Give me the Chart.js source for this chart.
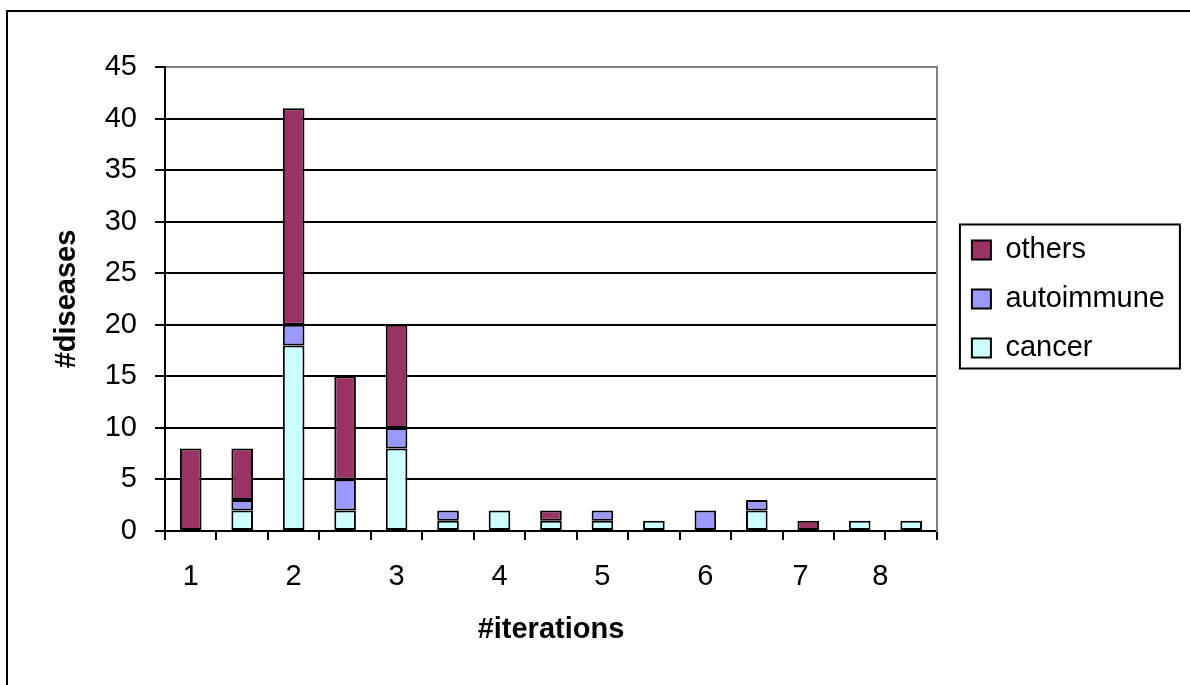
<!DOCTYPE html>
<html>
<head>
<meta charset="utf-8">
<script src="https://cdn.jsdelivr.net/npm/chart.js@4/dist/chart.umd.min.js"></script>
<style>
    html, body { margin: 0; padding: 0; background: #fff; overflow: hidden; }
    #frame {
        position: absolute; left: 6px; top: 10px;
        width: 2000px; height: 2000px;
        border-left: 2px solid #000; border-top: 2px solid #000;
    }
    #wrap { position: absolute; left: 0; top: 0; width: 1190px; height: 685px; }
</style>
</head>
<body>
<div id="frame"></div>
<div id="wrap"><canvas id="chart"></canvas></div>
<script>
    // bars, left to right
    const categories = ['1', '2', '3', '4', '5', '6', '7', '8', '9', '10', '11', '12', '13', '14', '15'];
    const cancer     = [0, 2, 18, 2, 8, 1, 2, 1, 1, 1, 0, 2, 0, 1, 1];
    const autoimmune = [0, 1, 2, 3, 2, 1, 0, 0, 1, 0, 2, 1, 0, 0, 0];
    const others     = [8, 5, 21, 10, 10, 0, 0, 1, 0, 0, 0, 0, 1, 0, 0];

    // x tick labels and where they sit (in bar index units)
    const tickLabels = ['1', '2', '3', '4', '5', '6', '7', '8'];
    const tickPositions = [0, 2, 4, 6, 8, 10, 11.85, 13.4];

    const yTicks = [0, 5, 10, 15, 20, 25, 30, 35, 40, 45];

    const font = "'Liberation Sans', Arial, sans-serif";

    // box around the legend
    const legendBox = {
        id: 'legendBox',
        afterDraw(chart) {
            const hb = chart.legend.legendHitBoxes;
            if (!hb || !hb.length) return;
            const ctx = chart.ctx;
            const first = hb[0], last = hb[hb.length - 1];
            const x = first.left - 12;
            const y = first.top - 11;
            const h = (last.top + last.height) - first.top + 17;
            ctx.save();
            ctx.strokeStyle = '#000';
            ctx.lineWidth = 2;
            ctx.strokeRect(x, y, 220, h);
            ctx.restore();
        }
    };

    const ctx = document.getElementById('chart').getContext('2d');
    new Chart(ctx, {
        type: 'bar',
        data: {
            labels: categories,
            datasets: [
                { label: 'cancer', data: cancer, backgroundColor: '#CCFFFF' },
                { label: 'autoimmune', data: autoimmune, backgroundColor: '#9999FF' },
                { label: 'others', data: others, backgroundColor: '#993366' }
            ]
        },
        options: {
            responsive: true,
            maintainAspectRatio: false,
            animation: false,
            layout: { padding: { left: 20, right: 15, top: 67, bottom: 35 } },
            datasets: {
                bar: {
                    borderColor: '#000',
                    borderWidth: 2,
                    borderSkipped: false,
                    barPercentage: 0.42,
                    categoryPercentage: 1.0
                }
            },
            plugins: {
                tooltip: { enabled: false },
                legend: {
                    position: 'right',
                    fullSize: false,
                    reverse: true,
                    maxWidth: 300,
                    labels: {
                        color: '#000',
                        font: { family: font, size: 29 },
                        boxWidth: 19,
                        boxHeight: 19,
                        padding: 20
                    }
                }
            },
            scales: {
                x: {
                    stacked: true,
                    ticks: { display: false },
                    grid: {
                        offset: true,
                        drawOnChartArea: false,
                        drawTicks: true,
                        tickLength: 9,
                        color: '#000',
                        lineWidth: 2
                    },
                    border: { color: '#000', width: 2 },
                    afterFit: function(scale) { scale.height = 9; }
                },
                xl: {
                    type: 'linear',
                    position: 'bottom',
                    offset: false,
                    min: -0.5,
                    max: 14.5,
                    grid: { display: false, drawTicks: false, offset: false },
                    border: { display: false },
                    afterBuildTicks: function(scale) {
                        scale.ticks = tickPositions.map(v => ({ value: v }));
                    },
                    ticks: {
                        autoSkip: false,
                        maxRotation: 0,
                        padding: 20,
                        color: '#000',
                        font: { family: font, size: 29 },
                        callback: function(value, i) { return tickLabels[i]; }
                    },
                    title: {
                        display: true,
                        text: '#iterations',
                        color: '#000',
                        font: { family: font, size: 29, weight: 'bold' },
                        padding: { top: 0, bottom: 3 }
                    },
                    afterFit: function(scale) { scale.height = 110; }
                },
                y: {
                    stacked: true,
                    min: 0,
                    max: 45,
                    afterBuildTicks: function(scale) {
                        scale.ticks = yTicks.map(v => ({ value: v }));
                    },
                    ticks: {
                        padding: 18,
                        color: '#000',
                        font: { family: font, size: 29 }
                    },
                    grid: {
                        color: c => (c.tick && c.tick.value === 45) ? '#808080' : '#000',
                        tickColor: '#000',
                        lineWidth: 2,
                        tickLength: 10
                    },
                    border: { color: '#000', width: 2 },
                    title: {
                        display: true,
                        text: '#diseases',
                        color: '#000',
                        font: { family: font, size: 29, weight: 'bold' },
                        padding: { top: 30, bottom: 0 }
                    },
                    afterFit: function(scale) { scale.width = 145; }
                },
                // gray right edge of the plot area, keeps a gap before the legend
                yr: {
                    position: 'right',
                    min: 0,
                    max: 45,
                    ticks: { display: false },
                    grid: { display: false, drawTicks: false },
                    border: { display: true, color: '#808080', width: 2 },
                    afterFit: function(scale) { scale.width = 15; }
                }
            }
        },
        plugins: [legendBox]
    });
</script>
</body>
</html>
